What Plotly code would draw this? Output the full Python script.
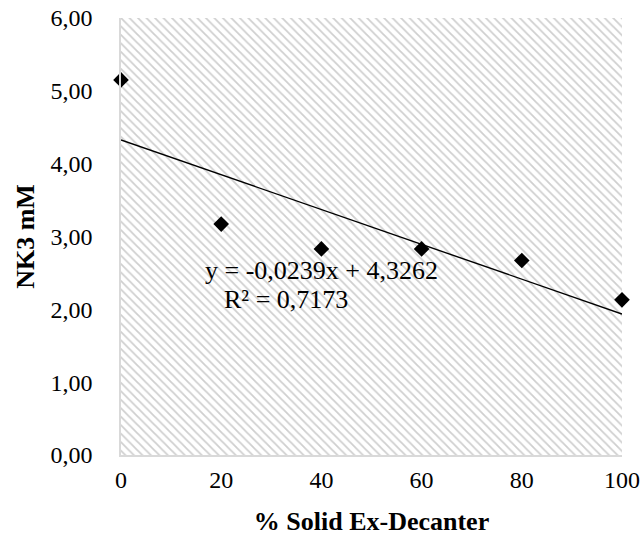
import plotly.graph_objects as go

# ---- data ----
solid_pct = [0, 20, 40, 60, 80, 100]
nk3_mM = [5.15, 3.17, 2.83, 2.83, 2.67, 2.13]
trend_slope = -0.0239
trend_intercept = 4.3262
eq_text = "y = -0,0239x + 4,3262"
r2_text = "R² = 0,7173"
x_range = [0, 100]
y_range = [0, 6]

FONT = "Palatino Linotype, Book Antiqua, Palatino, Liberation Serif, serif"

fig = go.Figure()

# hatched plot background
fig.add_trace(go.Scatter(
    x=[x_range[0], x_range[1], x_range[1], x_range[0], x_range[0]],
    y=[y_range[0], y_range[0], y_range[1], y_range[1], y_range[0]],
    mode="lines", fill="toself", line=dict(width=0),
    fillcolor="white",
    fillpattern=dict(shape="\\", fgcolor="#a0a0a0", bgcolor="white", size=6, solidity=0.3),
    hoverinfo="skip", showlegend=False,
))

# trendline
tx = [x_range[0], x_range[1]]
ty = [trend_slope * v + trend_intercept for v in tx]
fig.add_trace(go.Scatter(x=tx, y=ty, mode="lines",
                         line=dict(color="black", width=1.4),
                         hoverinfo="skip", showlegend=False))

# points
fig.add_trace(go.Scatter(x=solid_pct, y=nk3_mM, mode="markers",
                         marker=dict(symbol="diamond", size=12, color="black"),
                         showlegend=False, cliponaxis=False))

fig.add_annotation(x=40, y=2.53, xref="x", yref="y", text=eq_text, showarrow=False,
                   font=dict(family=FONT, size=26, color="black"))
fig.add_annotation(x=33, y=2.13, xref="x", yref="y", text=r2_text, showarrow=False,
                   font=dict(family=FONT, size=26, color="black"))

fig.update_layout(
    width=641, height=538,
    margin=dict(l=121, r=19, t=18, b=83),
    plot_bgcolor="white", paper_bgcolor="white",
    separators=",.",
    font=dict(family=FONT, size=24, color="black"),
    xaxis=dict(range=x_range, dtick=20, tick0=0, showgrid=False, zeroline=False,
               automargin=False, ticklabeloverflow="allow",
               showline=True, linecolor="#d9d9d9", linewidth=1.5,
               ticks="outside", ticklen=2, tickcolor="rgba(0,0,0,0)",
               tickfont=dict(family=FONT, size=24),
               title=dict(text="<b>% Solid Ex-Decanter</b>", font=dict(family=FONT, size=26), standoff=20)),
    yaxis=dict(range=y_range, dtick=1, tick0=0, tickformat=".2f", showgrid=False, zeroline=False,
               automargin=False, ticklabeloverflow="allow",
               showline=True, linecolor="#d9d9d9", linewidth=1.5,
               ticks="outside", ticklen=22, tickcolor="rgba(0,0,0,0)",
               tickfont=dict(family=FONT, size=24),
               title=dict(text="<b>NK3 mM</b>", font=dict(family=FONT, size=26), standoff=8)),
)

# place the figure at the very top-left corner of the page
fig.write_html("out.html", config={"displayModeBar": False},
               post_script="document.body.style.margin='0';document.body.style.overflow='hidden';")
